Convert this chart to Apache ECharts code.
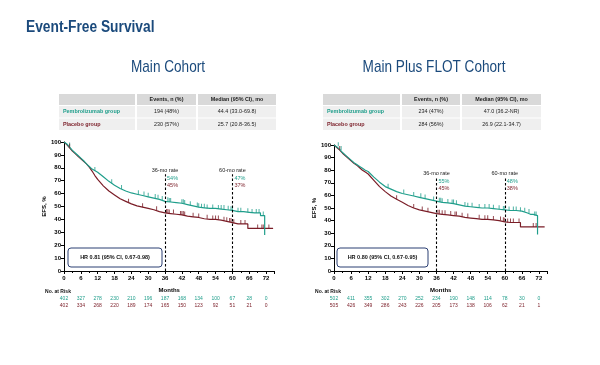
<!DOCTYPE html>
<html><head><meta charset="utf-8">
<script src="https://cdn.jsdelivr.net/npm/echarts@6/dist/echarts.min.js"></script>
<style>html,body{margin:0;padding:0;background:#fff}#c{width:600px;height:365px}</style>
</head><body><div id="c"></div><script>
const TEAL = '#1f9e8b', RED = '#7a1d27', BLUE = '#1b4a7c';
const SANS = '"Liberation Sans",Arial,sans-serif';

const pageTitle = 'Event-Free Survival';
const panelTitles = ['Main Cohort', 'Main Plus FLOT Cohort'];
const tableHeaders = ['', 'Events, n (%)', 'Median (95% CI), mo'];
const groupNames = ['Pembrolizumab group', 'Placebo group'];
const mainEvents = ['194 (48%)', '230 (57%)'];
const mainMedians = ['44.4 (33.0-69.8)', '25.7 (20.8-36.5)'];
const flotEvents = ['234 (47%)', '284 (56%)'];
const flotMedians = ['47.0 (36.2-NR)', '26.9 (22.1-34.7)'];
const hrTexts = ['HR 0.81 (95% CI, 0.67-0.98)', 'HR 0.80 (95% CI, 0.67-0.95)'];
const rateMonths = [36, 60];
const mainRates = [['54%', '45%'], ['47%', '37%']];
const flotRates = [['55%', '45%'], ['48%', '38%']];

const mainPembro = [[0,100],[1,98.5],[2,96],[3,93.5],[4,91.5],[5,89.5],[6,87.5],[7,85.5],[8,83],[9,81],[10,79],[10.5,78],[12,76.5],[14,73],[16,69.5],[18,66.5],[20,64],[22,62],[24,60.5],[26,59.5],[28,58.5],[30,57.5],[32,56.5],[34,55.5],[36,54],[38,53.5],[40,53],[42,52.5],[44,51.5],[46,50.5],[48,49.5],[50,49],[52,48.5],[54,48.5],[56,48],[58,47.5],[60,47],[62,46],[64,46],[66,45.5],[68,45],[70,45],[70,43],[71.5,43],[71.5,28]];
const mainPlacebo = [[0,100],[1,98],[2,95.5],[3,93],[4,91],[5,89],[6,87],[7,85],[8,83],[9,80.5],[10,77.5],[11,74],[12,71],[14,66],[16,62],[18,59],[20,56],[22,54],[24,52],[26,50.5],[28,49.5],[30,48.5],[32,47.5],[34,46],[36,45],[38,44.5],[40,44],[42,43.5],[44,42.5],[46,42],[48,41.5],[50,40.5],[52,40],[54,40],[56,39.5],[58,38.5],[60,37.5],[62,36.5],[65.5,36.5],[65.5,33],[74.5,33]];
const flotPembro = [[0,100],[1,98.5],[2,96.5],[3,94],[4,92],[5,90],[6,88],[7,86],[8,84.5],[9,83],[10,81.5],[11,80],[12,79],[14,74.5],[16,70.5],[18,67],[20,65],[22,63],[24,61.5],[26,60.5],[28,59.5],[30,58.5],[32,57.5],[34,56.5],[36,55.5],[38,54.5],[40,54],[42,53.5],[44,52.5],[46,51.5],[48,51],[50,50.5],[52,50],[54,50],[56,49.5],[58,49],[60,48.5],[62,48],[64,48],[66,47.5],[68,46],[69,45],[70,45],[70,44],[71.5,44],[71.5,29]];
const flotPlacebo = [[0,100],[1,98],[2,96],[3,93.5],[4,91.5],[5,89.5],[6,87.5],[7,85.5],[8,84],[9,82],[10,80],[11,78.5],[12,77],[14,72],[16,67],[18,63],[20,59.5],[22,57],[24,54.5],[26,52],[28,50],[30,48.5],[32,47.5],[34,46.5],[36,45.5],[38,45],[40,44.5],[42,44],[44,43.5],[46,42.5],[48,42],[50,41.5],[52,41],[54,41],[56,40.5],[58,40],[60,39],[62,38.5],[65.5,38.5],[65.5,35],[74,35]];

const mainCensorPembro = [[2,96.5],[11,77.5],[17,68],[20.5,63.5],[26.5,59.5],[28.5,58.5],[30,57.5],[32.5,56.5],[33.5,56],[35,55],[37,54],[37.5,53.5],[38,53.5],[42,52.5],[42.5,52.5],[43,52],[45,51],[47.5,50],[48,49.5],[49,49],[50,49],[51,48.5],[53,48.5],[55,48],[56,48],[57,48],[58.5,47.5],[59.5,47],[60,47],[62,46],[63,46],[65.5,45.5],[67,45],[68.5,45],[69.5,45],[71,43]];
const mainCensorPlacebo = [[2,95.5],[23,53],[28,49.5],[33,47],[36.5,45],[37,45],[37.5,44.5],[39,44.5],[41.5,43.5],[42,43.5],[42.5,43.5],[43,43],[46,42],[48,41.5],[51,40.5],[53,40],[54,40],[55,40],[57,39],[58,38.5],[59,38],[59.5,38],[60.5,37],[63,36.5],[64.5,36.5],[69,33],[70.5,33],[71,33],[73,33]];
const flotCensorPembro = [[1.5,99],[2.5,96],[19,66],[24.5,61.5],[28,59.5],[30.5,58.5],[32,57.5],[35,56],[37,55],[37.5,55],[38,54.5],[40,54],[41.5,53.5],[42,53.5],[43,53],[46,51.5],[47,51],[48.5,51],[51,50],[53,50],[54.5,50],[56,49.5],[58,49],[59.5,48.5],[60,48.5],[61.5,48],[63,48],[64,48],[65.5,47.5],[67,47],[68.5,46],[70.5,44],[71,44]];
const flotCensorPlacebo = [[2,96],[22,57],[28,50],[31,48],[33,47],[36.5,45.5],[37,45.5],[38,45],[39,45],[41,44.5],[42.5,44],[43,44],[45,43],[47,42.5],[51,41.5],[53,41],[54,41],[56,40.5],[58.5,40],[59.5,39.5],[60,39],[61,38.5],[62,38.5],[63,38.5],[65,38.5],[70,35],[71,35]];

const monthTickLabels = [0,6,12,18,24,30,36,42,48,54,60,66,72];
const mainRiskPembro = [402,327,278,230,210,196,187,168,134,100,67,28,0];
const mainRiskPlacebo = [402,334,268,220,189,174,165,150,123,92,51,21,0];
const flotRiskPembro = [502,411,355,302,270,252,234,190,148,114,78,30,0];
const flotRiskPlacebo = [505,426,349,286,243,226,205,173,138,106,62,21,1];

const panels = [
  {grid:{left:64, right:325.5, top:142, bottom:94}, pembro:mainPembro, placebo:mainPlacebo, cp:mainCensorPembro, cq:mainCensorPlacebo, rp:mainRiskPembro, rq:mainRiskPlacebo, events:mainEvents, medians:mainMedians, rates:mainRates, hr:hrTexts[0], title:panelTitles[0], titleX:168, table:{x:59, cols:[76,59,78]}, hrBox:{x:68,y:248,w:94,h:19}, riskLabelX:58, dashTop:75},
  {grid:{left:334, right:52.5, top:145, bottom:94}, pembro:flotPembro, placebo:flotPlacebo, cp:flotCensorPembro, cq:flotCensorPlacebo, rp:flotRiskPembro, rq:flotRiskPlacebo, events:flotEvents, medians:flotMedians, rates:flotRates, hr:hrTexts[1], title:panelTitles[1], titleX:434, table:{x:323, cols:[77,58,79]}, hrBox:{x:337,y:248,w:91,h:19}, riskLabelX:328, dashTop:74}
];

const tickFmt = v => (v % 6 === 0 && v <= 72) ? String(v) : '';
const grids = [], xAxes = [], yAxes = [], series = [];
panels.forEach((p, i) => {
  grids.push(p.grid);
  xAxes.push({
    gridIndex:i, type:'value', min:0, max:75, interval:6,
    axisLine:{lineStyle:{color:'#000', width:1}},
    axisTick:{length:3, lineStyle:{color:'#000'}},
    minorTick:{show:true, splitNumber:2, length:2, lineStyle:{color:'#000'}},
    splitLine:{show:false},
    axisLabel:{fontSize:6, fontWeight:'bold', color:'#000', margin:4, fontFamily:SANS, formatter:tickFmt},
    name:'Months', nameLocation:'middle', nameGap:16,
    nameTextStyle:{fontSize:6, fontWeight:'bold', color:'#000', fontFamily:SANS}
  });
  [[p.rp, TEAL, 25], [p.rq, RED, 32]].forEach(([arr, col, off]) => {
    xAxes.push({
      gridIndex:i, type:'value', min:0, max:75, interval:6, position:'bottom', offset:off,
      axisLine:{show:false}, axisTick:{show:false}, splitLine:{show:false},
      axisLabel:{fontSize:5, color:col, margin:0, fontFamily:SANS,
        formatter: v => (v % 6 === 0 && v <= 72) ? String(arr[monthTickLabels.indexOf(v)]) : ''}
    });
  });
  yAxes.push({
    gridIndex:i, type:'value', min:0, max:100, interval:10,
    axisLine:{show:true, lineStyle:{color:'#000', width:1}},
    axisTick:{show:true, length:3, lineStyle:{color:'#000'}},
    splitLine:{show:false},
    axisLabel:{fontSize:6, fontWeight:'bold', color:'#000', margin:3, fontFamily:SANS},
    name:'EFS, %', nameLocation:'middle', nameGap:14, nameRotate:90,
    nameTextStyle:{fontSize:6, fontWeight:'bold', color:'#000', fontFamily:SANS}
  });
  const xi = i * 3;
  series.push({
    type:'line', xAxisIndex:xi, yAxisIndex:i, data:p.pembro, symbol:'none', z:3,
    lineStyle:{color:TEAL, width:1.2}, animation:false,
    markLine:{silent:true, symbol:'none', label:{show:false},
      lineStyle:{color:'#000', type:[2.5,2], width:1.1},
      data: rateMonths.map(m => [{coord:[m,0]}, {coord:[m,p.dashTop]}])}
  });
  series.push({type:'line', xAxisIndex:xi, yAxisIndex:i, data:p.placebo, symbol:'none', z:2,
    lineStyle:{color:RED, width:1.2}, animation:false});
  series.push({type:'scatter', xAxisIndex:xi, yAxisIndex:i, data:p.cp, symbol:'rect', symbolSize:[1,4], symbolOffset:[0,-2],
    itemStyle:{color:TEAL}, z:4, animation:false});
  series.push({type:'scatter', xAxisIndex:xi, yAxisIndex:i, data:p.cq, symbol:'rect', symbolSize:[1,4], symbolOffset:[0,-2],
    itemStyle:{color:RED}, z:4, animation:false});
});

const chart = echarts.init(document.getElementById('c'), null, {renderer:'canvas'});
chart.setOption({animation:false, backgroundColor:'#fff', grid:grids, xAxis:xAxes, yAxis:yAxes, series:series});

const g = [];
g.push({type:'text', x:26, y:20, scaleX:0.86, style:{text:pageTitle, fontSize:16, fontWeight:'bold', fill:BLUE, fontFamily:SANS, align:'left', verticalAlign:'top'}});
panels.forEach((p, i) => {
  g.push({type:'text', x:p.titleX, y:67, scaleX:0.8, style:{text:p.title, fontSize:17, fill:BLUE, fontFamily:SANS, align:'center', verticalAlign:'middle'}});
  // table
  const rowsY = [[94,11,'#d9d9d9'],[106,11.5,'#efefef'],[118.5,11.5,'#efefef']];
  const cells = [tableHeaders, [groupNames[0], p.events[0], p.medians[0]], [groupNames[1], p.events[1], p.medians[1]]];
  rowsY.forEach(([y, h, bg], r) => {
    let x = p.table.x;
    p.table.cols.forEach((w, c) => {
      g.push({type:'rect', shape:{x:x, y:y, width:w, height:h}, style:{fill:bg}});
      const txt = cells[r][c];
      if (txt) {
        let fill = '#222', weight = r === 0 ? 'bold' : 'normal', align = 'center', tx = x + w/2;
        if (c === 0) { fill = r === 1 ? TEAL : RED; weight = 'bold'; align = 'left'; tx = x + 4; }
        g.push({type:'text', x:tx, y:y + h/2, scaleX:0.9, style:{text:txt, fontSize:6, fontWeight:weight, fill:fill, fontFamily:SANS, align:align, verticalAlign:'middle'}});
      }
      x += w + 2;
    });
  });
  // HR box
  const b = p.hrBox;
  g.push({type:'rect', shape:{x:b.x, y:b.y, width:b.w, height:b.h, r:3}, style:{fill:'#fff', stroke:'#2b3f73', lineWidth:1}, z:10});
  g.push({type:'text', x:b.x + b.w/2, y:b.y + b.h/2, z:11, style:{text:p.hr, fontSize:5.5, fontWeight:'bold', fill:'#111', fontFamily:SANS, align:'center', verticalAlign:'middle'}});
  // rate labels
  rateMonths.forEach((m, k) => {
    const top = chart.convertToPixel({gridIndex:i}, [m, p.dashTop]);
    g.push({type:'text', x:top[0], y:top[1] - 4, style:{text:m + '-mo rate', fontSize:5.5, fill:'#222', fontFamily:SANS, align:'center', verticalAlign:'middle'}});
    g.push({type:'text', x:top[0] + 2, y:top[1] + 4, style:{text:p.rates[k][0], fontSize:5.5, fill:TEAL, fontFamily:SANS, align:'left', verticalAlign:'middle'}});
    g.push({type:'text', x:top[0] + 2, y:top[1] + 11, style:{text:p.rates[k][1], fontSize:5.5, fill:RED, fontFamily:SANS, align:'left', verticalAlign:'middle'}});
  });
  const gb = chart.convertToPixel({gridIndex:i}, [0, 0]);
  g.push({type:'text', x:p.riskLabelX, y:gb[1] + 21, style:{text:'No. at Risk', fontSize:5, fontWeight:'bold', fill:'#111', fontFamily:SANS, align:'center', verticalAlign:'middle'}});
});
chart.setOption({graphic:g});
</script></body></html>
